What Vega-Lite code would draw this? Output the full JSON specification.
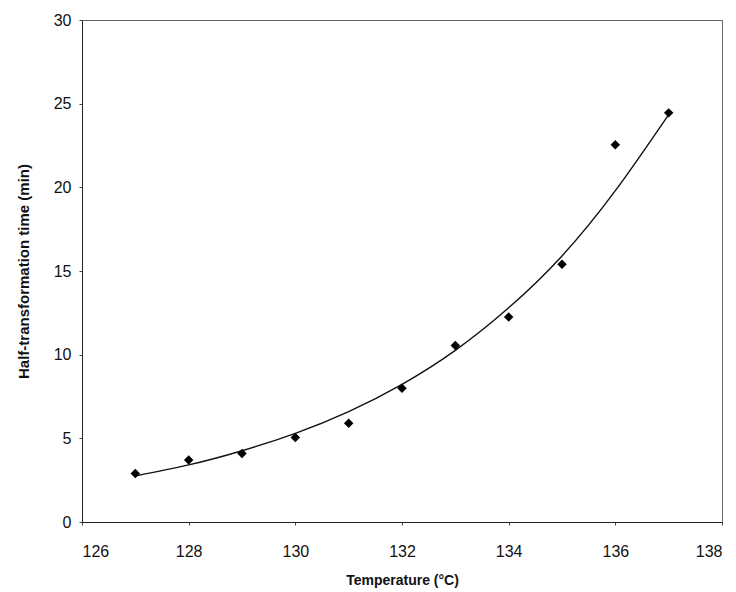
{
  "$schema": "https://vega.github.io/schema/vega-lite/v6.json",
  "width": 640,
  "height": 502,
  "autosize": {"type": "none"},
  "padding": {"left": 82, "top": 20, "right": 14, "bottom": 70},
  "background": "white",
  "config": {
    "font": "Liberation Sans",
    "view": {"stroke": "#666666", "strokeWidth": 1},
    "axis": {
      "grid": false,
      "domainColor": "#222222",
      "tickColor": "#444444",
      "tickSize": 3,
      "labelFont": "Liberation Sans",
      "labelFontSize": 16,
      "labelColor": "#111111",
      "titleFont": "Liberation Sans",
      "titleFontSize": 15,
      "titleFontWeight": "bold",
      "titleColor": "#111111"
    }
  },
  "datasets": {
    "points": [
      {"T": 127, "t": 2.9},
      {"T": 128, "t": 3.7},
      {"T": 129, "t": 4.1},
      {"T": 130, "t": 5.05},
      {"T": 131, "t": 5.9},
      {"T": 132, "t": 8.0},
      {"T": 133, "t": 10.55},
      {"T": 134, "t": 12.25},
      {"T": 135, "t": 15.4},
      {"T": 136, "t": 22.55},
      {"T": 137, "t": 24.45}
    ],
    "trend": [
      {"T": 127, "t": 2.75},
      {"T": 128, "t": 3.41},
      {"T": 129, "t": 4.26},
      {"T": 130, "t": 5.3},
      {"T": 131, "t": 6.6},
      {"T": 132, "t": 8.23},
      {"T": 133, "t": 10.26},
      {"T": 134, "t": 12.8},
      {"T": 135, "t": 15.9},
      {"T": 136, "t": 19.8},
      {"T": 137, "t": 24.35}
    ]
  },
  "layer": [
    {
      "data": {"name": "trend"},
      "mark": {"type": "line", "color": "#111111", "strokeWidth": 1.4, "interpolate": "natural"},
      "encoding": {
        "x": {"field": "T", "type": "quantitative"},
        "y": {"field": "t", "type": "quantitative"}
      }
    },
    {
      "data": {"name": "points"},
      "mark": {"type": "point", "shape": "diamond", "filled": true, "color": "#000000", "size": 90, "opacity": 1},
      "encoding": {
        "x": {
          "field": "T",
          "type": "quantitative",
          "scale": {"domain": [126, 138], "nice": false, "zero": false},
          "axis": {
            "values": [126, 128, 130, 132, 134, 136, 138],
            "title": "Temperature (°C)",
            "titleFontSize": 14,
            "labelPadding": 18,
            "titlePadding": 14
          }
        },
        "y": {
          "field": "t",
          "type": "quantitative",
          "scale": {"domain": [0, 30], "nice": false},
          "axis": {
            "values": [0, 5, 10, 15, 20, 25, 30],
            "title": "Half-transformation time (min)",
            "labelPadding": 8,
            "titlePadding": 22
          }
        }
      }
    }
  ]
}
